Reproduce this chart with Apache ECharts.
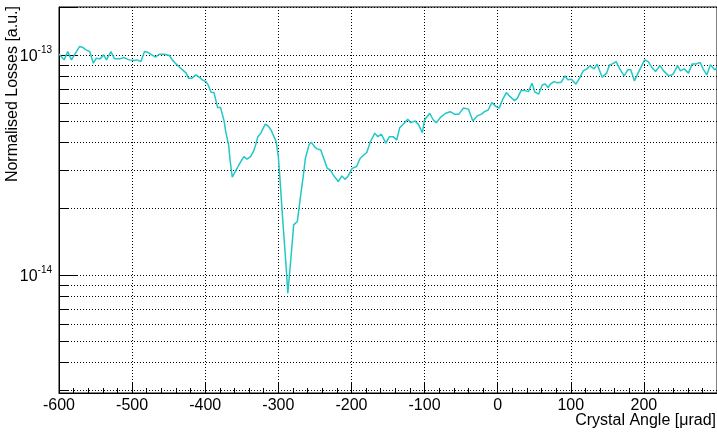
<!DOCTYPE html>
<html>
<head>
<meta charset="utf-8">
<script src="https://cdn.jsdelivr.net/npm/echarts@6/dist/echarts.min.js"></script>
<style>
html,body{margin:0;padding:0;background:#fff;}
#chart{width:717px;height:433px;}
</style>
</head>
<body>
<div id="chart"></div>
<script>
// Crystal angle in µrad
const angles = [-600,-593,-588,-583,-572,-568,-563,-558,-553,-549,-544,-539,-535,-529,-524,-517,-511,-504,-497,-493,-488,-483,-479,-473,-468,-463,-456,-449,-445,-440,-435,-431,-426,-423,-418,-413,-408,-404,-399,-396,-392,-388,-383,-379,-374,-372,-368,-366,-363,-359,-354,-350,-347,-343,-338,-334,-331,-328,-324,-318,-314,-310,-306,-303,-300,-298,-294,-290,-287,-283,-279,-274,-270,-266,-263,-258,-255,-250,-247,-242,-238,-233,-229,-225,-218,-213,-209,-205,-199,-193,-188,-183,-179,-174,-168,-164,-159,-153,-148,-143,-138,-134,-128,-123,-119,-113,-108,-103,-100,-93,-88,-84,-78,-71,-65,-59,-53,-47,-40,-34,-28,-22,-18,-13,-8,-2,2,7,12,17,23,27,32,37,42,47,51,56,61,65,69,72,77,81,87,92,96,101,107,112,117,122,126,132,136,143,149,153,157,162,167,173,178,182,187,192,201,206,211,216,222,227,234,240,246,250,255,261,266,272,277,281,286,291,297,300];
// Normalised losses, in units of 1e-14 a.u.
const lossUnit = 1e-14;
const losses = [10.1,9.49,10.35,9.49,10.91,10.84,10.54,10.35,9.17,9.66,9.59,10.0,9.49,10.35,9.59,9.59,9.72,9.49,9.42,9.49,9.32,10.35,10.29,10.0,9.76,10.07,10.07,9.93,9.49,9.10,8.79,8.55,8.26,7.84,7.84,8.11,7.92,7.70,7.56,7.30,6.77,6.74,5.76,5.76,4.98,4.48,3.90,3.33,2.78,2.95,3.16,3.33,3.45,3.36,3.45,3.64,3.90,4.25,4.41,4.84,4.76,4.56,4.25,4.04,3.45,2.80,1.78,1.17,0.826,1.17,1.69,1.75,2.23,2.80,3.39,3.90,4.01,3.81,3.74,3.70,3.39,3.05,3.00,2.85,2.66,2.82,2.72,2.80,3.05,3.11,3.39,3.51,3.60,4.04,4.41,4.25,4.36,3.97,4.25,4.25,4.11,4.67,4.89,5.10,4.92,5.01,4.81,4.43,5.06,5.43,5.06,4.92,5.21,5.43,5.52,5.38,5.38,5.73,5.67,5.01,5.28,5.38,5.52,5.62,6.07,5.82,5.73,6.29,6.74,6.46,6.20,6.36,6.88,6.88,6.81,7.43,6.77,6.63,7.30,7.38,7.10,7.36,7.56,7.48,7.51,8.03,7.70,7.75,7.36,7.84,8.46,8.64,8.91,8.64,9.07,7.92,8.26,9.01,9.10,9.32,8.64,8.03,8.55,8.55,7.62,8.26,9.49,9.32,8.76,8.40,8.94,8.46,8.03,8.17,8.94,8.46,8.64,8.26,9.10,9.10,9.23,8.64,8.11,9.01,8.55,8.73];

// Axis settings
const xMin = -600, xMax = 300, xStep = 100;
const yMin = 2.91e-15, yMax = 1.65e-13;
const minorGridValues = [3e-15,4e-15,5e-15,6e-15,7e-15,8e-15,9e-15,2e-14,3e-14,4e-14,5e-14,6e-14,7e-14,8e-14,9e-14];
const xTitle = 'Crystal Angle [μrad]';
const yTitle = 'Normalised Losses [a.u.]';

const FONT = 'Liberation Sans, Arial, Helvetica, sans-serif';
const data = angles.map((a, i) => [a, losses[i] * lossUnit]);

const minorTickLen = 12.3; // in x data units (~9px)
const gridLines = minorGridValues.map(v => [
  {coord: [xMin, v]}, {coord: [xMax, v]}
]);
const minorTicks = minorGridValues.map(v => [
  {coord: [xMin, v]}, {coord: [xMin + minorTickLen, v]}
]);

const chart = echarts.init(document.getElementById('chart'), null, {renderer: 'canvas'});
chart.setOption({
  animation: false,
  backgroundColor: '#fff',
  grid: {left: 59, right: 0, top: 7, bottom: 40, containLabel: false, outerBoundsMode: 'none',
         show: true, borderColor: '#000', borderWidth: 1, backgroundColor: 'transparent'},
  xAxis: {
    type: 'value', min: xMin, max: xMax, interval: xStep,
    axisLine: {show: true, onZero: false, lineStyle: {color: '#000', width: 1}},
    axisTick: {show: true, inside: true, length: 11, lineStyle: {color: '#000'}},
    minorTick: {show: true, splitNumber: 5, length: 5, lineStyle: {color: '#000'}},
    axisLabel: {fontFamily: FONT, fontSize: 16, color: '#000', margin: 5, showMaxLabel: false},
    splitLine: {show: true, lineStyle: {color: '#000', type: [1, 2], width: 1}}
  },
  yAxis: {
    type: 'log', logBase: 10, min: yMin, max: yMax,
    axisLine: {show: true, onZero: false, lineStyle: {color: '#000', width: 1}},
    axisTick: {show: true, inside: true, length: 19, lineStyle: {color: '#000'}},
    axisLabel: {
      margin: 7, color: '#000',
      formatter: function (v) {
        const e = Math.log10(v);
        if (Math.abs(e - Math.round(e)) > 1e-6) return '';
        return '{b|10}{s|' + Math.round(e) + '}';
      },
      rich: {
        b: {fontFamily: FONT, fontSize: 16, lineHeight: 20, color: '#000', padding: [4, 0, 0, 0]},
        s: {fontFamily: FONT, fontSize: 10, lineHeight: 10, color: '#000', verticalAlign: 'top'}
      }
    },
    splitLine: {show: true, lineStyle: {color: '#000', type: [1, 2], width: 1}}
  },
  graphic: [{
    type: 'text', x: 13, y: 6, rotation: Math.PI / 2,
    style: {text: yTitle, font: '16px ' + FONT, fill: '#000', align: 'right', verticalAlign: 'middle'}
  }, {
    type: 'text', x: 716, y: 421,
    style: {text: xTitle, font: '16px ' + FONT, fill: '#000', align: 'right', verticalAlign: 'middle'}
  }],
  series: [{
    type: 'line', data: data, showSymbol: false, symbol: 'none',
    lineStyle: {color: '#22c7c7', width: 1.5},
    itemStyle: {color: '#22c7c7'},
    z: 5,
    markLine: {
      silent: true, symbol: 'none', animation: false, z: 1,
      label: {show: false},
      lineStyle: {color: '#000', type: [1, 2], width: 1},
      data: gridLines
    }
  }, {
    type: 'line', data: [],
    markLine: {
      silent: true, symbol: 'none', animation: false,
      label: {show: false},
      lineStyle: {color: '#000', type: 'solid', width: 1},
      data: minorTicks
    }
  }]
});
</script>
</body>
</html>
